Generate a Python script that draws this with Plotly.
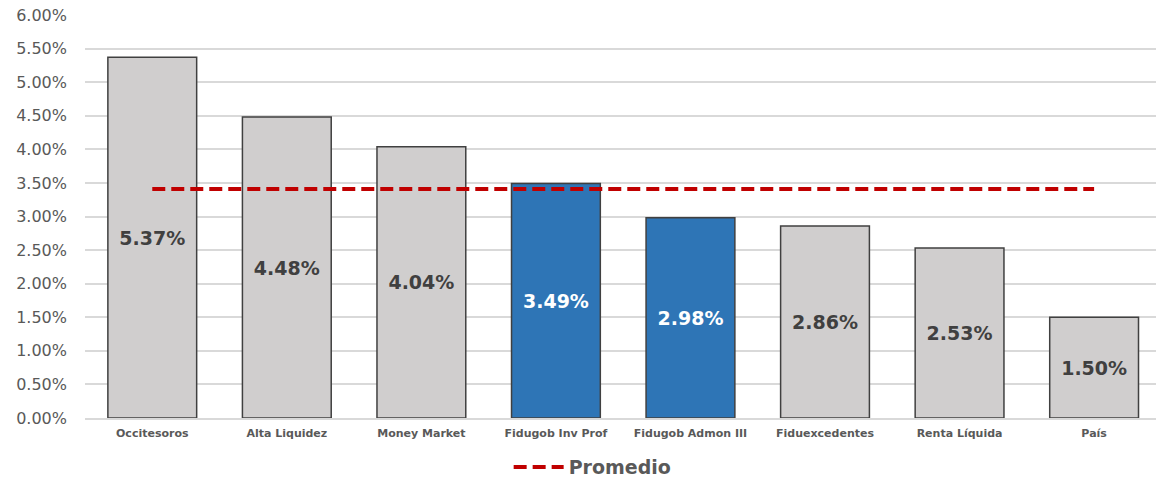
import plotly.graph_objects as go

categories = ["Occitesoros", "Alta Liquidez", "Money Market", "Fidugob Inv Prof",
              "Fidugob Admon III", "Fiduexcedentes", "Renta Líquida", "País"]
values = [5.37, 4.48, 4.04, 3.49, 2.98, 2.86, 2.53, 1.50]
average = [3.41] * len(categories)
highlight = ["Fidugob Inv Prof", "Fidugob Admon III"]
y_ticks = [0, 0.5, 1.0, 1.5, 2.0, 2.5, 3.0, 3.5, 4.0, 4.5, 5.0, 5.5, 6.0]
y_tick_labels = [f"{v:.2f}%" for v in y_ticks]

GRAY = "#D0CECE"
BLUE = "#2E75B6"
colors = [BLUE if c in highlight else GRAY for c in categories]
text_colors = ["#FFFFFF" if c in highlight else "#404040" for c in categories]

fig = go.Figure()
fig.add_trace(go.Bar(
    x=categories, y=values,
    marker=dict(color=colors, line=dict(color="#404040", width=1.5)),
    texttemplate="%{y:.2f}%", textposition="inside", insidetextanchor="middle",
    textfont=dict(family="DejaVu Sans", size=19, color=text_colors, weight="bold"),
    textangle=0, constraintext="none",
    showlegend=False, width=0.66, hoverinfo="skip",
))
fig.add_trace(go.Scatter(
    x=categories, y=average, mode="lines", name="Promedio",
    line=dict(color="#C00000", width=4, dash="13px,6px"),
))

fig.update_layout(
    width=1156, height=479,
    margin=dict(l=85, r=0, t=15, b=61, autoexpand=False),
    paper_bgcolor="white", plot_bgcolor="white",
    font=dict(family="DejaVu Sans", color="#595959"),
    legend=dict(orientation="h", x=0.474, xanchor="center", y=-0.075, yanchor="top",
                font=dict(family="DejaVu Sans", size=19, color="#595959", weight="bold"),
                itemwidth=50),
)
fig.update_xaxes(
    range=[-0.5, 7.46],
    tickfont=dict(family="DejaVu Sans", size=11, color="#595959", weight="bold"),
    showline=True, linecolor="#D9D9D9", linewidth=1.5, ticks="", automargin=False,
    ticklabelstandoff=4,
)
fig.update_yaxes(
    range=[0, 6.0], tickvals=y_ticks, ticktext=y_tick_labels,
    tickfont=dict(family="DejaVu Sans", size=16, color="#595959"),
    gridcolor="#D9D9D9", gridwidth=1.5, zeroline=False, ticklen=0, ticks="",
    automargin=False, ticklabelstandoff=17,
)

fig.write_html("out.html", config={"displayModeBar": False},
               post_script="document.body.style.margin='0';")
